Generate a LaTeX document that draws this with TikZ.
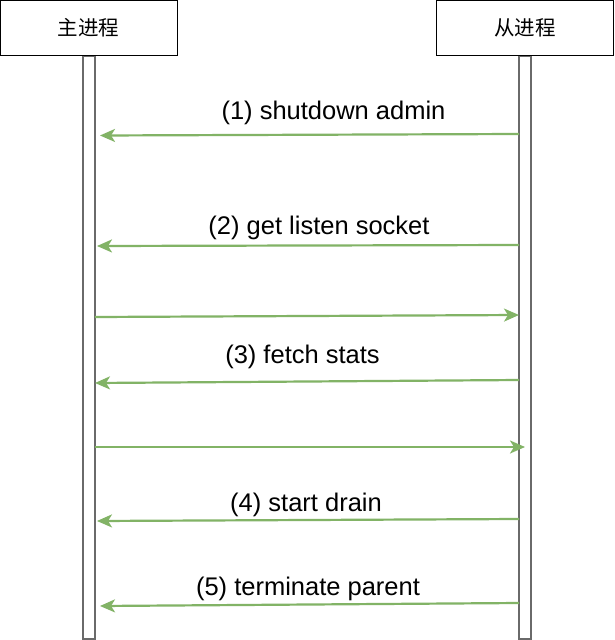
\documentclass[tikz,border=0pt]{standalone}
\usepackage{fontspec}
\setmainfont{Liberation Sans}
\newfontfamily\cjk{Noto Sans CJK SC}
\usetikzlibrary{arrows.meta}
\definecolor{arrowgreen}{HTML}{82B366}
\definecolor{lifegray}{HTML}{6A6A6A}
\begin{document}
\begin{tikzpicture}[x=1pt,y=-1pt,
  procbox/.style={draw=black,line width=1pt,fill=white,minimum width=177pt,minimum height=55pt,inner sep=0pt,font=\cjk\fontsize{20.5}{24}\selectfont},
  lifeline/.style={draw=lifegray,line width=1.5pt,fill=white},
  msg/.style={draw=arrowgreen,line width=2.2pt,-{Stealth[length=15pt,width=13pt,inset=4pt]}},
  lbl/.style={anchor=base,inner sep=0pt,font=\fontsize{25.5}{30}\selectfont}]
\useasboundingbox (0,0) rectangle (614,640);
\fill[white] (0,0) rectangle (614,640);
% lifelines
\draw[lifeline] (83,56) rectangle (95,639);
\draw[lifeline] (519,56) rectangle (531,639);
% header boxes
\node[procbox] (master) at (88.5,28) {主进程};
\node[procbox] (worker) at (525,28) {从进程};
% arrow end points
\coordinate (a1s) at (519,134); \coordinate (a1e) at (100,135.5);
\coordinate (a2s) at (519,245); \coordinate (a2e) at (97,246);
\coordinate (a3s) at (95,317);  \coordinate (a3e) at (519,315);
\coordinate (a4s) at (519,380); \coordinate (a4e) at (95,383);
\coordinate (a5s) at (95,447);  \coordinate (a5e) at (525,447);
\coordinate (a6s) at (519,519); \coordinate (a6e) at (97,521);
\coordinate (a7s) at (519,603); \coordinate (a7e) at (100,606);
\draw[msg] (a1s) -- (a1e);
\draw[msg] (a2s) -- (a2e);
\draw[msg] (a3s) -- (a3e);
\draw[msg] (a4s) -- (a4e);
\draw[msg] (a5s) -- (a5e);
\draw[msg] (a6s) -- (a6e);
\draw[msg] (a7s) -- (a7e);
% labels
\node[lbl] (l1) at (333.5,119) {(1) shutdown admin};
\node[lbl] (l2) at (319,234.5) {(2) get listen socket};
\node[lbl] (l3) at (302.5,363.5) {(3) fetch stats};
\node[lbl] (l4) at (306,511) {(4) start drain};
\node[lbl] (l5) at (308,595) {(5) terminate parent};
\end{tikzpicture}
\end{document}
